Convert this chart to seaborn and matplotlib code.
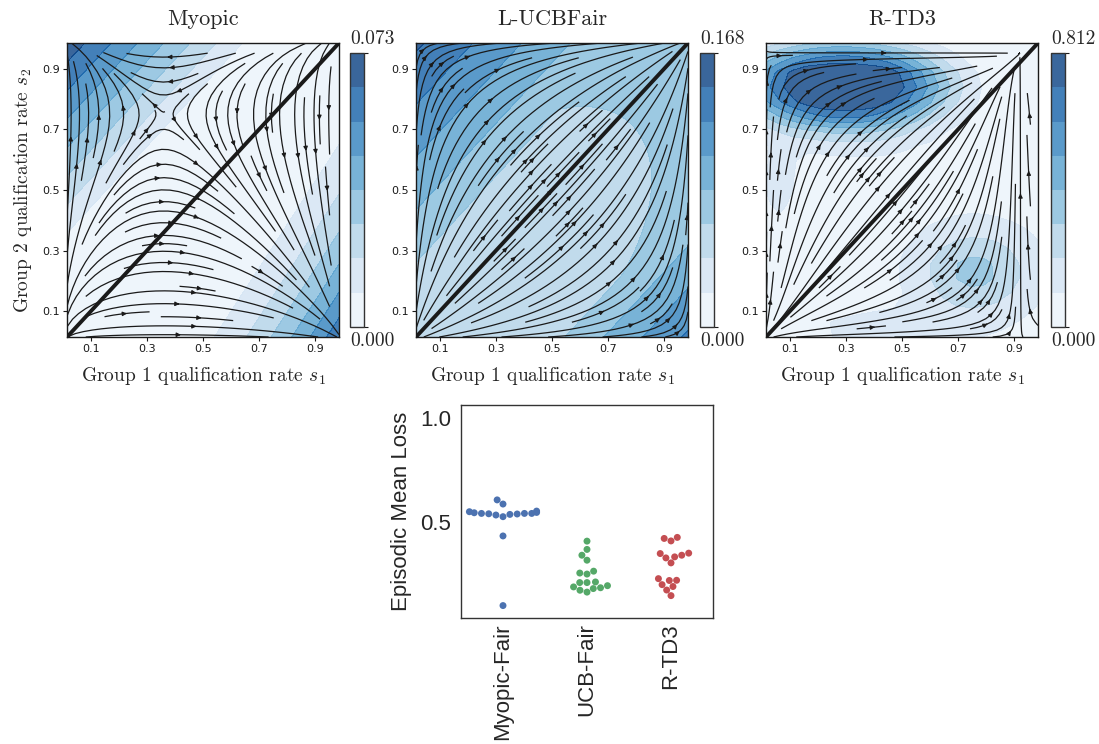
import numpy as np
import pandas as pd
import matplotlib
matplotlib.use("Agg")
import matplotlib.pyplot as plt
import seaborn as sns

sns.set_theme(style="white")
plt.rcParams["font.family"] = ["DejaVu Sans"]
plt.rcParams["mathtext.fontset"] = "cm"

# ------------------------------------------------------------------ data
panel_titles = ["Myopic", "L-UCBFair", "R-TD3"]
panel_vmax = [0.073, 0.168, 0.812]
state_ticks = [0.1, 0.3, 0.5, 0.7, 0.9]
state_tick_labels = ["0.1", "0.3", "0.5", "0.7", "0.9"]
state_range = [0.015, 0.985]
n_bands = 8

# dynamics parameters
myopic_saddle = [0.36, 0.75]      # (s1, s2) location of the saddle
ucb_power = 1.0                   # logistic growth exponent
rtd3_power = 1.5
rtd3_target = [0.92, 0.95]        # (s1, s2) where R-TD3 trajectories settle

# background ramps (normalised level = c0 + gain * (a*s1 + b*s2 - off)^pow), combined by max
myopic_ramp_a = [-1.0, 1.0]
myopic_ramp_b = [1.0, -0.7]
myopic_ramp_off = [0.25, 0.254]
myopic_ramp_gain = [1.333, 1.64]
myopic_ramp_c0 = [0.0, 0.0]
myopic_ramp_pow = [1.0, 2.0]

ucb_ramp_a = [-1.0, 1.0]
ucb_ramp_b = [1.0, -1.0]
ucb_ramp_off = [0.42, 0.67]
ucb_ramp_gain = [0.72, 0.90]
ucb_ramp_c0 = [0.5, 0.5]
ucb_ramp_pow = [1.0, 1.0]
ucb_valley_centre = [0.38, 0.30]   # light central valley
ucb_valley_axes = [0.58, 0.34]     # half-lengths along / across the diagonal
ucb_valley_level = [0.375, 0.06]   # level at the rim, growth per unit radius

# R-TD3 bumps (summed): centre x, centre y, width x, width y, amplitude, shape
rtd3_cx = [0.28, 0.30, 0.35, 0.76, 0.42, 0.06]
rtd3_cy = [0.85, 0.88, 0.75, 0.23, 0.04, 0.50]
rtd3_sx = [0.38, 0.18, 0.35, 0.23, 0.28, 0.08]
rtd3_sy = [0.14, 0.04, 0.17, 0.16, 0.06, 0.15]
rtd3_amp = [0.90, 0.20, 0.22, 0.45, 0.20, 0.16]
rtd3_shape = [3.0, 2.0, 2.0, 1.5, 2.0, 2.0]

# swarm data
categories = ["Myopic-Fair", "UCB-Fair", "R-TD3"]
myopic_loss = [0.5455, 0.5439, 0.5407, 0.539, 0.533, 0.525, 0.536, 0.538,
               0.5407, 0.5407, 0.549, 0.552, 0.606, 0.586, 0.432, 0.096]
ucb_loss = [0.407, 0.367, 0.339, 0.315, 0.262, 0.253, 0.248, 0.210,
            0.207, 0.207, 0.192, 0.186, 0.182, 0.178, 0.170, 0.161]
rtd3_loss = [0.425, 0.420, 0.408, 0.349, 0.347, 0.339, 0.331, 0.326,
             0.302, 0.226, 0.218, 0.217, 0.197, 0.188, 0.171, 0.144]
swarm_colors = ["#4c72b0", "#55a868", "#c44e52"]


# ------------------------------------------------------------------ helpers
def ramps(X, Y, a, b, off, gain, c0, pw):
    Z = np.full_like(X, -np.inf)
    for ai, bi, oi, gi, ci, pi in zip(a, b, off, gain, c0, pw):
        d = ai * X + bi * Y - oi
        Z = np.maximum(Z, ci + gi * np.sign(d) * np.abs(d) ** pi)
    return Z


def bumps(X, Y, cx, cy, sx, sy, amp, shape):
    Z = np.zeros_like(X)
    for x0, y0, a, b, A, p in zip(cx, cy, sx, sy, amp, shape):
        r = np.sqrt(((X - x0) / a) ** 2 + ((Y - y0) / b) ** 2)
        Z = Z + A * np.exp(-r ** p)
    return Z


s = np.linspace(state_range[0], state_range[1], 120)
X, Y = np.meshgrid(s, s)
sc = np.linspace(state_range[0], state_range[1], 21)
Xc, Yc = np.meshgrid(sc, sc)

U_my = X * (1 - X) * (myopic_saddle[1] - Y)
V_my = Y * (1 - Y) * (myopic_saddle[0] - X)
U_ucb = (X * (1 - X)) ** ucb_power
V_ucb = (Y * (1 - Y)) ** ucb_power
dX = rtd3_target[0] - X
dY = rtd3_target[1] - Y
U_rt = X ** rtd3_power * np.sign(dX) * np.abs(dX) ** rtd3_power
V_rt = Y ** rtd3_power * np.sign(dY) * np.abs(dY) ** rtd3_power
fields = [(U_my, V_my), (U_ucb, V_ucb), (U_rt, V_rt)]

bg_my = np.maximum(0, ramps(X, Y, myopic_ramp_a, myopic_ramp_b, myopic_ramp_off,
                            myopic_ramp_gain, myopic_ramp_c0, myopic_ramp_pow))
along = ((X - ucb_valley_centre[0]) + (Y - ucb_valley_centre[1])) / np.sqrt(2)
across = ((Y - ucb_valley_centre[1]) - (X - ucb_valley_centre[0])) / np.sqrt(2)
q = np.sqrt((along / ucb_valley_axes[0]) ** 2 + (across / ucb_valley_axes[1]) ** 2)
bg_ucb = np.maximum(ucb_valley_level[0] + ucb_valley_level[1] * (q - 1),
                    ramps(X, Y, ucb_ramp_a, ucb_ramp_b, ucb_ramp_off,
                          ucb_ramp_gain, ucb_ramp_c0, ucb_ramp_pow))
bg_rt = bumps(Xc, Yc, rtd3_cx, rtd3_cy, rtd3_sx, rtd3_sy, rtd3_amp, rtd3_shape)

bg_grids = [(X, Y, bg_my), (X, Y, bg_ucb), (Xc, Yc, bg_rt)]
densities = [1.0, 1.2, 1.25]

# ------------------------------------------------------------------ figure
W, H = 1099, 744
fig = plt.figure(figsize=(W / 100, H / 100), dpi=100)


def frac(l, t, r, b):
    return [l / W, 1 - b / H, (r - l) / W, (b - t) / H]


ax_boxes = [frac(67, 43, 339, 337), frac(416, 43, 688, 337), frac(766, 43, 1038, 337)]
cb_boxes = [frac(350, 53, 364, 327), frac(700, 53, 714, 327), frac(1051, 53, 1065, 327)]

serif = "cmr10"
for i in range(3):
    ax = fig.add_axes(ax_boxes[i])
    vmax = panel_vmax[i]
    levels = np.linspace(0, vmax, n_bands + 1)
    GX, GY, G = bg_grids[i]
    cs = ax.contourf(GX, GY, np.clip(G, 0, 0.999) * vmax, levels=levels,
                     cmap="Blues", alpha=0.8)
    U, V = fields[i]
    ax.streamplot(X, Y, U, V, color="k", density=densities[i], linewidth=0.9,
                  arrowsize=0.6)
    ax.plot([0, 1], [0, 1], color="k", lw=2.8)
    ax.set_xlim(state_range)
    ax.set_ylim(state_range)
    ax.set_xticks(state_ticks)
    ax.set_xticklabels(state_tick_labels)
    ax.set_yticks(state_ticks)
    ax.set_yticklabels(state_tick_labels)
    ax.tick_params(bottom=True, left=True, length=3, width=0.8, color="k",
                   labelsize=8, labelcolor="k", pad=2)
    for sp in ax.spines.values():
        sp.set_color("k")
        sp.set_linewidth(1.0)
    ax.set_title(panel_titles[i], fontfamily=serif, fontsize=16, pad=13)
    ax.set_xlabel(r"Group 1 qualification rate $s_1$", fontfamily=serif,
                  fontsize=14, labelpad=8)
    if i == 0:
        ax.set_ylabel(r"Group 2 qualification rate $s_2$", fontfamily=serif,
                      fontsize=14, labelpad=6)

    cax = fig.add_axes(cb_boxes[i])
    cb = fig.colorbar(cs, cax=cax, ticks=[0, vmax])
    cb.set_ticklabels(["", ""])
    cax.tick_params(right=True, length=3, width=0.8, color="k")
    cb.outline.set_edgecolor("#333333")
    cb.outline.set_linewidth(1.0)
    cax.text(0.0, 1.02, f"{vmax:.3f}", transform=cax.transAxes, ha="left",
             va="bottom", fontfamily=serif, fontsize=14)
    cax.text(0.0, -0.02, f"{0:.3f}", transform=cax.transAxes, ha="left",
             va="top", fontfamily=serif, fontsize=14)

# ------------------------------------------------------------------ swarm
df = pd.DataFrame({
    "method": [categories[0]] * len(myopic_loss) + [categories[1]] * len(ucb_loss)
              + [categories[2]] * len(rtd3_loss),
    "loss": myopic_loss + ucb_loss + rtd3_loss,
})
ax2 = fig.add_axes(frac(461, 405, 713, 618))
sns.swarmplot(data=df, x="method", y="loss", hue="method", order=categories,
              hue_order=categories, palette=swarm_colors, size=5, ax=ax2,
              legend=False)
ax2.set_ylim(0.036, 1.064)
ax2.set_yticks([0.5, 1.0])
ax2.set_yticklabels(["0.5", "1.0"], fontfamily="Liberation Sans", fontsize=16)
ax2.set_xticks(range(3))
ax2.set_xticklabels(categories, rotation=90, fontfamily="Liberation Sans",
                    fontsize=16)
ax2.tick_params(axis="y", colors="#262626", length=0, pad=7)
ax2.tick_params(axis="x", colors="#262626", length=0, pad=4)
ax2.set_xlabel("")
ax2.set_ylabel("Episodic Mean Loss", fontfamily="Liberation Sans", fontsize=16,
               labelpad=6, color="#262626")
for sp in ax2.spines.values():
    sp.set_color("#333333")
    sp.set_linewidth(1.0)

fig.savefig("out.png", dpi=100)
